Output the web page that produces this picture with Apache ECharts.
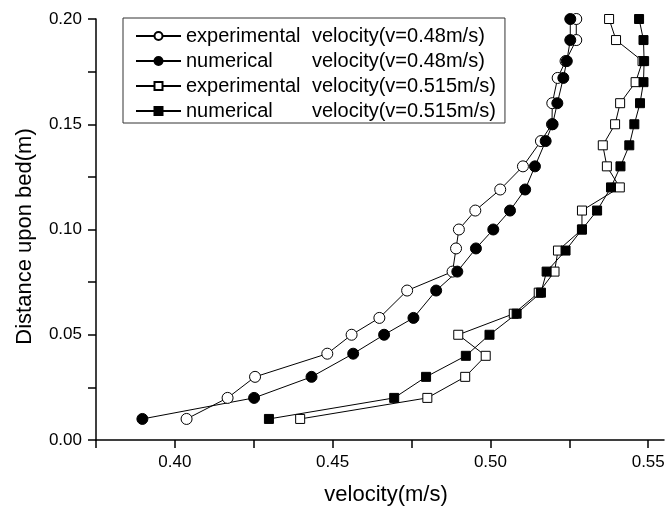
<!DOCTYPE html>
<html>
<head>
<meta charset="utf-8">
<script src="https://cdn.jsdelivr.net/npm/echarts@6/dist/echarts.min.js"></script>
<style>
html,body{margin:0;padding:0;background:#fff;}
#chart{width:669px;height:512px;}
</style>
</head>
<body>
<div id="chart"></div>
<script>
// ---- data ----
const seriesNames = [
  'experimental velocity(v=0.48m/s)',
  'numerical velocity(v=0.48m/s)',
  'experimental velocity(v=0.515m/s)',
  'numerical velocity(v=0.515m/s)'
];
const dist048 = [0.010, 0.020, 0.030, 0.041, 0.050, 0.058, 0.071, 0.080, 0.091, 0.100,
                 0.109, 0.119, 0.130, 0.142, 0.150, 0.160, 0.172, 0.180, 0.190, 0.200];
const velExp048 = [0.4037, 0.4167, 0.4254, 0.4483, 0.4560, 0.4648, 0.4736, 0.4880, 0.4891, 0.4900,
                   0.4952, 0.5031, 0.5103, 0.5160, 0.5195, 0.5196, 0.5213, 0.5238, 0.5272, 0.5272];
const velNum048 = [0.3897, 0.4251, 0.4433, 0.4565, 0.4663, 0.4756, 0.4828, 0.4895, 0.4954, 0.5009,
                   0.5062, 0.5110, 0.5141, 0.5175, 0.5197, 0.5212, 0.5231, 0.5242, 0.5253, 0.5253];
const dist0515 = [0.010, 0.020, 0.030, 0.040, 0.050, 0.060, 0.070, 0.080, 0.090, 0.100,
                  0.109, 0.120, 0.130, 0.140, 0.150, 0.160, 0.170, 0.180, 0.190, 0.200];
const velExp0515 = [0.4397, 0.4800, 0.4920, 0.4985, 0.4898, 0.5074, 0.5153, 0.5203, 0.5214, 0.5290,
                    0.5290, 0.5410, 0.5369, 0.5356, 0.5395, 0.5411, 0.5460, 0.5482, 0.5398, 0.5376];
const velNum0515 = [0.4298, 0.4695, 0.4796, 0.4922, 0.4997, 0.5083, 0.5160, 0.5178, 0.5238, 0.5290,
                    0.5338, 0.5382, 0.5412, 0.5440, 0.5456, 0.5474, 0.5485, 0.5487, 0.5485, 0.5471];
const xTickValues = [0.375, 0.400, 0.425, 0.450, 0.475, 0.500, 0.525, 0.550];
const xLabelValues = [0.40, 0.45, 0.50, 0.55];
const yTickValues = [0.000, 0.025, 0.050, 0.075, 0.100, 0.125, 0.150, 0.175, 0.200];
const yLabelValues = [0.00, 0.05, 0.10, 0.15, 0.20];
const xTitle = 'velocity(m/s)';
const yTitle = 'Distance upon bed(m)';

// ---- chart ----
const FONT = 'Liberation Sans, Arial, sans-serif';
function pairs(xs, ys){ return xs.map((x, i) => [x, ys[i]]); }
function mkSeries(name, xs, ys, symbol, filled, size){
  return {
    name: name, type: 'line', data: pairs(xs, ys),
    symbol: symbol, symbolSize: size, showSymbol: true,
    lineStyle: {color: '#000', width: 1},
    itemStyle: {color: filled ? '#000' : '#fff', borderColor: '#000', borderWidth: 1},
    emphasis: {disabled: true},
    animation: false
  };
}
const chart = echarts.init(document.getElementById('chart'), null, {renderer: 'canvas'});
const axisCommon = {
  axisLine: {show: true, onZero: false, lineStyle: {color: '#000', width: 1.5}},
  axisTick: {show: true, inside: false, length: 8, lineStyle: {color: '#000', width: 1.5}},
  splitLine: {show: false}
};
chart.setOption({
  animation: false,
  backgroundColor: '#fff',
  grid: {left: 96, right: 5, top: 19, bottom: 72, containLabel: false},
  xAxis: Object.assign({}, axisCommon, {
    type: 'value', min: 0.375, max: 0.555,
    name: xTitle, nameLocation: 'middle', nameGap: 44,
    nameTextStyle: {color: '#000', fontFamily: FONT, fontSize: 22, padding: [0, 0, 0, 12]},
    axisTick: Object.assign({}, axisCommon.axisTick, {customValues: xTickValues}),
    axisLabel: {customValues: xLabelValues, color: '#000', fontFamily: FONT, fontSize: 17, margin: 14,
      formatter: v => v.toFixed(2)}
  }),
  yAxis: Object.assign({}, axisCommon, {
    type: 'value', min: 0, max: 0.20,
    name: yTitle, nameLocation: 'middle', nameGap: 60,
    nameTextStyle: {color: '#000', fontFamily: FONT, fontSize: 22, padding: [0, 14, 0, 0]},
    axisTick: Object.assign({}, axisCommon.axisTick, {customValues: yTickValues}),
    axisLabel: {customValues: yLabelValues, color: '#000', fontFamily: FONT, fontSize: 17, margin: 14,
      formatter: v => v.toFixed(2)}
  }),
  legend: {
    orient: 'vertical', left: 123, top: 18,
    borderColor: '#333', borderWidth: 1, padding: [6, 9, 0, 12],
    itemWidth: 45, itemHeight: 10, itemGap: 1,
    selectedMode: false,
    data: seriesNames,
    textStyle: {
      color: '#000', fontFamily: FONT, fontSize: 20, lineHeight: 24,
      rich: {
        a: {width: 126, fontFamily: FONT, fontSize: 20, lineHeight: 24, color: '#000'},
        b: {fontFamily: FONT, fontSize: 20, lineHeight: 24, color: '#000'}
      }
    },
    formatter: function(name){
      const i = name.indexOf(' ');
      return '{a|' + name.slice(0, i) + '}{b|' + name.slice(i + 1) + '}';
    }
  },
  series: [
    mkSeries(seriesNames[0], velExp048, dist048, 'circle', false, 11),
    mkSeries(seriesNames[1], velNum048, dist048, 'circle', true, 11),
    mkSeries(seriesNames[2], velExp0515, dist0515, 'rect', false, 9),
    mkSeries(seriesNames[3], velNum0515, dist0515, 'rect', true, 9)
  ]
});
</script>
</body>
</html>
